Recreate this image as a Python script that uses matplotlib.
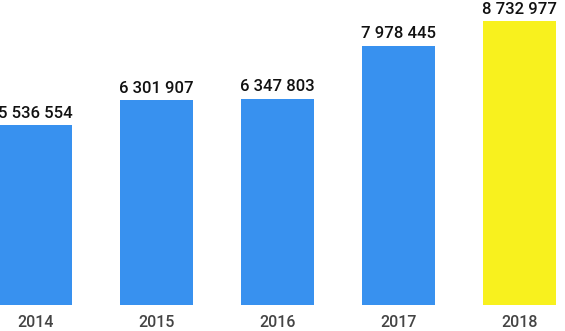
import matplotlib.pyplot as plt

years = ["2014", "2015", "2016", "2017", "2018"]
values = [5536554, 6301907, 6347803, 7978445, 8732977]
colors = ["#3891ef", "#3891ef", "#3891ef", "#3891ef", "#f8f11e"]


def fmt(v):
    return f"{v:,}".replace(",", " ")


fig = plt.figure(figsize=(5.65, 3.31), dpi=100)
ax = fig.add_axes([0, 0.0785, 1, 0.9215])

x = range(len(years))
bars = ax.bar(x, values, width=0.6, color=colors)
for b, v in zip(bars, values):
    ax.annotate(fmt(v), (b.get_x() + b.get_width() / 2, v), xytext=(0, 3),
                textcoords="offset points", ha="center", va="bottom",
                fontsize=12, fontfamily="Roboto", fontweight="medium", color="#111111")

ax.set_xlim(-0.293, 4.376)
ax.set_ylim(0, 9378690)
ax.set_xticks(list(x))
ax.set_xticklabels(years, fontsize=11.5, fontfamily="Roboto", fontweight="medium", color="#444444")
ax.tick_params(axis="x", length=0, pad=7)
ax.set_yticks([])
for s in ax.spines.values():
    s.set_visible(False)

fig.savefig("out.png", dpi=100)
